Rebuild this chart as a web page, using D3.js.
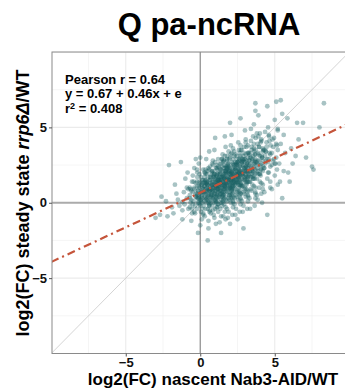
<!DOCTYPE html>
<html><head><meta charset="utf-8">
<script src="https://cdn.jsdelivr.net/npm/d3@7"></script>
<style>body{margin:0;background:#fff}svg{display:block}</style>
</head><body><svg id="c" width="345" height="388"></svg>
<script>
const title = "Q pa-ncRNA";
const xLabel = "log2(FC) nascent Nab3-AID/WT";
const yLabelParts = [["log2(FC) steady state ", false], ["rrp6Δ", true], ["/WT", false]];
const statLines = ["Pearson r = 0.64", "y = 0.67 + 0.46x + e"];
const r2Value = "0.408";
const fitIntercept = 0.67;
const fitSlope = 0.46;
const xTicks = [-5, 0, 5];
const yTicks = [-5, 0, 5];
const majorGrid = [-10, -5, 0, 5, 10];
const minorGrid = [-7.5, -2.5, 2.5, 7.5];
// [nascent log2FC, steady-state log2FC] (spread of the cloud)
const points = [
[-3.0,-1.0],[-2.7,-0.8],[-2.6,0.4],
[-2.1,2.5],[-2.3,0.1],[-1.9,-0.3],[-2.2,-0.9],
[-1.3,2.7],[-1.8,-0.7],[-1.6,0.6],[-1.4,-0.2],[-1.7,1.2],[-1.5,0.2],
[-1.2,-0.5],[-1.2,0.05],[-0.9,1.0],[-1.1,0.7],[-0.8,-0.4],[-1.0,1.6],[-0.9,0.3],[-1.2,-1.1],[-0.8,0.9],[-1.05,-0.1],[-0.85,2.0],
[-0.7,1.0],[-0.5,1.8],[-0.6,0.2],[-0.4,-0.6],[-0.3,1.3],[-0.7,-0.3],[-0.5,0.7],[-0.4,2.3],[-0.6,-1.2],[-0.3,0.4],[-0.55,1.4],[-0.35,-0.2],[-0.65,0.9],[-0.45,0.1],[-0.3,2.9],[-0.7,0.5],[-0.4,1.0],[-0.55,-0.7],
[0.0,3.0],[-0.15,-2.0],[-0.2,0.5],[0.1,1.2],[-0.1,0.0],[0.2,0.9],[-0.2,1.7],[0.05,-0.6],[0.15,0.3],[-0.05,1.4],[0.2,2.2],[-0.15,0.8],[0.1,-1.1],[0.0,0.6],[0.2,1.5],[-0.2,-0.4],[0.05,0.2],[-0.1,2.6],[0.15,1.0],[0.0,-0.2],[-0.2,1.1],[0.1,0.4],[0.2,-0.8],[-0.05,1.9],[0.1,0.7],[-0.1,0.3],[0.2,1.3],[0.0,-1.5],[-0.15,0.0],
[0.5,-2.5],[0.3,0.6],[0.4,1.3],[0.6,0.1],[0.7,1.8],[0.35,-0.4],[0.55,0.9],[0.65,2.4],[0.45,0.3],[0.3,1.1],[0.7,-0.7],[0.5,1.6],[0.4,0.0],[0.6,0.8],[0.35,2.0],[0.7,0.4],[0.55,-1.2],[0.45,1.4],[0.3,0.7],[0.65,1.0],[0.5,0.2],[0.4,2.9],[0.6,-0.2],[0.7,1.3],[0.35,0.9],[0.55,0.5],[0.45,1.9],[0.65,-0.5],[0.3,0.1],[0.5,1.2],[0.6,3.4],[0.4,0.6],[0.7,0.0],[0.35,1.5],[0.55,-1.7],[0.45,0.8],[0.65,1.7],[0.3,-0.9],[0.5,0.4],[0.6,2.2],
[1.4,-2.0],[0.8,0.7],[0.9,1.5],[1.0,0.2],[1.1,2.3],[1.2,0.9],[0.85,-0.5],[0.95,1.2],[1.05,0.4],[1.15,1.9],[1.2,-0.1],[0.8,1.4],[0.9,0.0],[1.0,2.7],[1.1,0.8],[1.2,1.6],[0.85,0.3],[0.95,-1.0],[1.05,1.1],[1.15,0.5],[1.2,2.0],[0.8,-0.2],[0.9,1.8],[1.0,0.6],[1.1,1.3],[1.2,-0.6],[0.85,1.0],[0.95,3.5],[1.05,0.1],[1.15,1.5],[1.2,0.7],[0.8,2.1],[0.9,0.4],[1.0,-0.4],[1.1,1.7],[1.2,1.1],[0.85,2.5],[0.95,0.6],[1.05,-1.4],[1.15,0.9],[0.8,1.2],[0.9,-0.8],[1.0,1.4],[1.1,0.3],[1.2,2.9],[0.85,0.8],[0.95,1.9],[1.05,0.0],[1.15,1.2],[1.0,4.3],[1.1,-0.3],
[1.3,1.0],[1.4,2.2],[1.5,0.4],[1.6,1.6],[1.7,-0.3],[1.35,1.3],[1.45,0.7],[1.55,2.8],[1.65,1.1],[1.7,0.2],[1.3,1.9],[1.4,-0.9],[1.5,1.4],[1.6,0.6],[1.7,2.4],[1.35,0.0],[1.45,1.7],[1.55,0.9],[1.65,-0.6],[1.7,1.5],[1.3,0.5],[1.4,1.2],[1.5,3.2],[1.6,0.3],[1.7,1.0],[1.35,2.0],[1.45,-0.2],[1.55,1.3],[1.65,2.1],[1.7,0.7],[1.3,-1.3],[1.4,0.8],[1.5,1.8],[1.6,1.2],[1.7,3.7],[1.35,0.6],[1.45,1.0],[1.55,-0.9],[1.65,1.6],[1.7,0.4],[1.3,2.6],[1.4,1.5],[1.5,0.1],[1.6,2.3],[1.7,1.3],[1.35,-0.4],[1.45,2.9],[1.55,0.5],[1.65,0.9],[1.7,-1.1],[1.3,1.4],[1.4,0.2],[1.5,2.1],[1.6,-0.1],[1.7,1.9],[1.35,1.1],[1.45,0.4],[1.55,1.7],[1.65,4.4],
[1.8,1.2],[1.9,2.4],[2.0,0.6],[2.1,1.8],[2.2,0.0],[1.85,1.5],[1.95,2.9],[2.05,0.9],[2.15,2.1],[2.2,1.3],[1.8,-0.4],[1.9,1.7],[2.0,1.0],[2.1,3.3],[2.2,0.4],[1.85,2.0],[1.95,0.2],[2.05,1.4],[2.15,-0.8],[2.2,2.6],[1.8,0.8],[1.9,1.1],[2.0,2.3],[2.1,0.5],[2.2,1.6],[1.85,-1.0],[1.95,1.3],[2.05,3.8],[2.15,1.0],[2.2,0.1],[1.8,2.2],[1.9,0.3],[2.0,1.5],[2.1,2.0],[2.2,-0.3],[1.85,0.7],[1.95,1.9],[2.05,0.0],[2.15,1.6],[2.2,2.9],[1.8,1.6],[1.9,-0.6],[2.0,1.2],[2.1,0.8],[2.2,1.9],[1.85,2.5],[1.95,0.5],[2.05,1.7],[2.15,0.3],[2.2,1.1],[1.8,0.1],[1.9,2.0],[2.0,-1.4],[2.1,1.3],[2.2,3.6],[1.85,1.0],[1.95,1.6],[2.05,2.4],[2.15,0.6],[2.0,5.3],[2.1,4.5],[1.9,0.9],
[2.3,1.4],[2.4,2.6],[2.5,0.8],[2.6,2.0],[2.7,0.3],[2.35,1.7],[2.45,3.1],[2.55,1.2],[2.65,2.4],[2.7,1.5],[2.3,-0.1],[2.4,1.9],[2.5,1.3],[2.6,3.5],[2.7,0.6],[2.35,2.2],[2.45,0.4],[2.55,1.6],[2.65,-0.6],[2.7,2.8],[2.3,1.0],[2.4,1.3],[2.5,2.5],[2.6,0.7],[2.7,1.8],[2.35,-0.8],[2.45,1.5],[2.55,4.0],[2.65,1.2],[2.7,0.2],[2.3,2.4],[2.4,0.5],[2.5,1.7],[2.6,2.2],[2.7,-0.1],[2.35,0.9],[2.45,2.1],[2.55,0.2],[2.65,1.8],[2.7,3.1],[2.3,1.8],[2.4,-0.4],[2.5,1.4],[2.6,1.0],[2.7,2.1],[2.35,2.7],[2.45,0.7],[2.55,1.9],[2.65,0.5],[2.7,1.3],[2.3,0.3],[2.4,2.2],[2.5,-1.1],[2.6,1.5],[2.7,3.8],[2.35,1.2],[2.45,1.8],[2.55,2.6],[2.7,5.6],
[2.9,-1.7],[2.8,1.6],[2.9,2.8],[3.0,1.0],[3.1,2.3],[3.2,0.5],[2.85,1.9],[2.95,3.3],[3.05,1.4],[3.15,2.6],[3.2,1.7],[2.8,0.1],[2.9,2.1],[3.0,1.5],[3.1,3.7],[3.2,0.8],[2.85,2.4],[2.95,0.6],[3.05,1.8],[3.15,-0.4],[3.2,3.0],[2.8,1.2],[2.9,1.5],[3.0,2.7],[3.1,0.9],[3.2,2.0],[2.85,-0.6],[2.95,1.7],[3.05,4.2],[3.15,1.4],[3.2,0.4],[2.8,2.6],[2.9,0.7],[3.0,1.9],[3.1,2.4],[3.2,0.1],[2.85,1.1],[2.95,2.3],[3.05,0.4],[3.15,2.0],[3.2,3.3],[2.8,2.0],[2.9,-0.2],[3.0,1.6],[3.1,1.2],[3.2,2.3],[2.85,2.9],[2.95,0.9],[3.05,2.1],[3.15,0.7],[3.0,4.8],
[3.3,1.8],[3.4,3.0],[3.5,1.2],[3.6,2.4],[3.7,0.7],[3.35,2.1],[3.45,3.5],[3.55,1.6],[3.65,2.8],[3.7,1.9],[3.3,0.3],[3.4,2.3],[3.5,1.7],[3.6,3.9],[3.7,1.0],[3.35,2.6],[3.45,0.8],[3.55,2.0],[3.65,-0.2],[3.7,3.2],[3.3,1.4],[3.4,1.7],[3.5,2.9],[3.6,1.1],[3.7,2.2],[3.35,-0.4],[3.45,1.9],[3.55,4.4],[3.65,1.6],[3.7,0.6],[3.3,2.8],[3.4,0.9],[3.5,2.1],[3.6,2.6],[3.7,0.3],[3.7,6.6],[3.7,6.1],[3.9,5.8],[3.4,4.9],[3.6,5.2],
[3.8,2.0],[3.9,3.2],[4.0,1.4],[4.1,2.6],[4.2,0.9],[3.85,2.3],[3.95,3.7],[4.05,1.8],[4.15,3.0],[4.2,2.1],[3.8,0.5],[3.9,2.5],[4.0,1.9],[4.1,4.1],[4.2,1.2],[3.85,2.8],[3.95,1.0],[4.05,2.2],[4.15,0.0],[4.2,3.4],[3.8,1.6],[3.9,1.9],[4.0,3.1],[4.1,1.3],[4.2,2.4],[3.85,0.2],[4.0,4.6],[4.1,0.6],[3.9,4.4],
[4.3,2.3],[4.4,3.4],[4.5,1.6],[4.6,2.9],[4.7,1.0],[4.35,2.6],[4.45,4.0],[4.55,2.0],[4.65,3.3],[4.7,2.4],[4.3,0.7],[4.4,2.8],[4.5,-0.8],[4.6,4.5],[4.5,6.4],[4.7,1.4],[4.35,3.1],[4.55,5.0],
[4.8,2.5],[4.9,3.7],[5.0,1.8],[5.1,3.0],[5.2,1.2],[4.85,2.8],[4.95,4.3],[5.0,5.5],[5.1,6.7],[5.15,2.2],[5.2,3.5],[4.8,0.9],[5.0,2.6],[5.2,4.8],
[5.4,6.8],[5.5,5.9],[5.5,0.3],[5.3,2.6],[5.4,3.9],[5.6,2.1],[5.7,3.3],[5.6,4.5],[5.35,1.4],
[5.9,2.0],[6.0,1.4],[6.2,2.6],[6.1,3.6],[5.85,5.6],
[6.5,5.3],[6.4,3.1],[6.6,4.2],
[6.9,5.3],[7.1,3.0],
[7.5,2.4],[7.6,2.2],[8.0,5.0],[8.3,6.6]
];
// [nascent log2FC, steady-state log2FC] read from the dense core of the cloud
const densePoints = [
[-0.7,0.3],[-0.4,0.9],[-0.55,-0.4],[-0.3,0.6],[-0.65,0.0],[-0.45,1.4],[-0.35,-0.7],[-0.6,0.8],[-0.5,-0.1],[-0.28,0.4],
[-0.2,0.6],[0.1,1.2],[-0.05,-0.1],[0.2,0.9],[-0.15,0.3],[0.05,1.7],[0.15,-0.4],[-0.1,1.1],[0.0,0.2],[0.22,0.7],[-0.22,1.4],[0.12,0.0],[-0.2,2.0],[0.1,0.5],[-0.05,1.0],[0.2,-0.7],[-0.15,0.8],[0.05,0.1],[0.15,1.5],[-0.1,0.4],[0.0,1.3],[0.22,-0.2],[-0.22,2.2],[0.12,0.7],[-0.2,0.3],
[0.3,1.4],[0.6,-0.2],[0.45,1.2],[0.7,0.9],[0.35,1.9],[0.55,0.0],[0.65,1.5],[0.4,0.7],[0.5,2.1],[0.72,0.5],[0.28,1.1],[0.62,-0.6],[0.3,1.7],[0.6,0.8],[0.45,1.3],[0.7,0.2],[0.35,2.2],[0.55,0.9],[0.65,1.5],[0.4,0.2],[0.5,1.2],[0.72,0.6],[0.28,2.0],[0.62,-0.1],[0.3,1.4],[0.6,0.5],[0.45,1.0],[0.7,1.7],[0.35,0.3],[0.55,2.3],[0.65,0.8],[0.4,1.3],[0.5,-0.4],[0.72,1.1],[0.28,0.4],
[0.8,2.1],[1.1,1.0],[0.95,1.9],[1.2,0.4],[0.85,2.8],[1.05,1.3],[1.15,0.9],[0.9,1.7],[1.0,0.1],[1.22,1.5],[0.78,1.2],[1.12,2.2],[0.8,0.3],[1.1,1.8],[0.95,1.0],[1.2,2.4],[0.85,0.8],[1.05,1.4],[1.15,-0.3],[0.9,2.0],[1.0,1.1],[1.22,1.6],[0.78,0.5],[1.12,2.5],[0.8,1.2],[1.1,1.8],[0.95,0.5],[1.2,1.5],[0.85,0.9],[1.05,2.3],[1.15,0.2],[0.9,1.7],[1.0,0.8],[1.22,1.3],[0.78,2.0],[1.12,0.6],[0.8,2.6],[1.1,1.1],[0.95,1.6],[1.2,-0.1],
[1.3,1.7],[1.6,1.0],[1.45,2.4],[1.7,1.3],[1.35,2.2],[1.55,0.7],[1.65,3.1],[1.4,1.6],[1.5,1.2],[1.72,2.0],[1.28,0.4],[1.62,1.8],[1.3,1.5],[1.6,2.5],[1.45,0.6],[1.7,2.1],[1.35,1.3],[1.55,2.7],[1.65,1.1],[1.4,1.7],[1.5,0.0],[1.72,2.3],[1.28,1.4],[1.62,1.9],[1.3,0.8],[1.6,2.8],[1.45,1.5],[1.7,2.1],[1.35,0.8],[1.55,1.8],[1.65,1.2],[1.4,2.6],[1.5,0.5],[1.72,2.0],[1.28,1.1],[1.62,1.6],[1.3,2.3],[1.6,0.9],[1.45,2.9],[1.7,1.4],[1.35,1.9],[1.55,0.2],
[1.8,3.1],[2.1,1.1],[1.95,2.2],[2.2,1.7],[1.85,2.6],[2.05,0.3],[2.15,2.0],[1.9,1.4],[2.0,3.0],[2.22,1.6],[1.78,2.4],[2.12,0.9],[1.8,2.8],[2.1,1.8],[1.95,2.1],[2.2,0.7],[1.85,2.3],[2.05,1.5],[2.15,1.9],[1.9,3.4],[2.0,1.0],[2.22,2.5],[1.78,1.6],[2.12,2.7],[1.8,1.3],[2.1,2.0],[1.95,0.5],[2.2,2.2],[1.85,1.7],[2.05,3.2],[2.15,1.2],[1.9,2.6],[2.0,1.9],[2.22,1.4],[1.78,2.3],[2.12,0.8],[1.8,2.9],[2.1,1.5],[1.95,2.1],[2.2,1.1],
[2.3,1.3],[2.6,2.8],[2.45,1.9],[2.7,3.0],[2.35,1.6],[2.55,2.3],[2.65,0.8],[2.4,2.5],[2.5,2.0],[2.72,3.5],[2.28,1.5],[2.62,2.9],[2.3,2.2],[2.6,1.7],[2.45,2.6],[2.7,1.1],[2.35,3.2],[2.55,1.8],[2.65,2.4],[2.4,1.4],[2.5,2.7],[2.72,2.1],[2.28,3.4],[2.62,1.4],[2.3,2.5],[2.6,2.0],[2.45,2.9],[2.7,0.6],[2.35,2.3],[2.55,1.7],[2.65,3.3],[2.4,1.9],[2.5,2.7],[2.72,1.2],[2.28,3.1],[2.62,2.1],
[2.8,2.7],[3.1,1.3],[2.95,2.9],[3.2,2.1],[2.85,2.5],[3.05,4.0],[3.15,1.6],[2.9,3.1],[3.0,2.2],[3.22,3.3],[2.78,1.9],[3.12,2.6],[2.8,1.1],[3.1,2.8],[2.95,2.3],[3.2,3.8],[2.85,1.8],[3.05,3.2],[3.15,2.5],[2.9,2.0],[3.0,2.9],[3.22,1.4],[2.78,3.5],[3.12,2.1],[2.8,2.7],[3.1,1.7],[2.95,3.7],[3.2,1.7],[2.85,2.8],[3.05,2.4],
[3.3,3.3],[3.6,1.8],[3.45,3.7],[3.7,2.7],[3.35,3.0],[3.55,1.6],[3.65,3.2],[3.4,2.4],[3.5,2.8],[3.72,4.3],[3.28,1.9],[3.62,3.4],[3.3,2.5],[3.6,3.6],[3.45,2.2],[3.7,2.9],[3.35,1.4],[3.55,3.1],[3.65,2.6],[3.4,4.1],[3.5,2.1],[3.72,3.5],[3.28,2.8],[3.62,2.3],[3.3,3.2],
[3.8,2.6],[4.1,4.2],[3.95,2.8],[4.2,3.6],[3.85,2.1],[4.05,4.0],[4.15,3.0],[3.9,3.3],[4.0,1.9],[4.22,3.5],[3.78,2.7],[4.12,3.1],[3.8,4.6],[4.1,2.2],[3.95,3.7],[4.2,2.8],[3.85,3.9],[4.05,2.5],
[4.3,3.5],[4.6,2.0],[4.45,3.7],[4.7,3.2],[4.35,4.7],[4.55,2.7],[4.65,4.1],[4.4,3.4],[4.5,2.9],[4.72,3.8],[4.28,2.3],[4.62,4.4],
[4.8,3.3],[5.1,3.9],[4.95,2.9],[5.2,4.9],[4.85,4.2],[5.05,2.6],[5.15,3.8]
];
const allPoints = points.concat(densePoints);

const svg = d3.select("#c");
const x = d3.scaleLinear().domain([-9.95, 10.05]).range([52, 350]);
const y = d3.scaleLinear().domain([-10, 10]).range([353.5, 52]);
const [yTop, yBot] = [52, 353.5];

svg.append("defs").append("clipPath").attr("id", "pc")
  .append("rect").attr("x", 52).attr("y", yTop).attr("width", 300).attr("height", yBot - yTop);

const panel = svg.append("g").attr("clip-path", "url(#pc)");
panel.selectAll(".mx").data(minorGrid).join("line")
  .attr("x1", d => x(d)).attr("x2", d => x(d)).attr("y1", yTop).attr("y2", yBot)
  .attr("stroke", "#f0f0f0").attr("stroke-width", 0.7);
panel.selectAll(".my").data(minorGrid).join("line")
  .attr("y1", d => y(d)).attr("y2", d => y(d)).attr("x1", 52).attr("x2", 352)
  .attr("stroke", "#f0f0f0").attr("stroke-width", 0.7);
panel.selectAll(".gx").data(majorGrid).join("line")
  .attr("x1", d => x(d)).attr("x2", d => x(d)).attr("y1", yTop).attr("y2", yBot)
  .attr("stroke", "#ebebeb").attr("stroke-width", 1.1);
panel.selectAll(".gy").data(majorGrid).join("line")
  .attr("y1", d => y(d)).attr("y2", d => y(d)).attr("x1", 52).attr("x2", 352)
  .attr("stroke", "#ebebeb").attr("stroke-width", 1.1);
panel.append("line")
  .attr("x1", x(-11)).attr("y1", y(-11)).attr("x2", x(11)).attr("y2", y(11))
  .attr("stroke", "#c9c9c9").attr("stroke-width", 0.8);
panel.append("line").attr("x1", 52).attr("x2", 352).attr("y1", y(0)).attr("y2", y(0))
  .attr("stroke", "#ababab").attr("stroke-width", 1.8);
panel.append("line").attr("x1", x(0)).attr("x2", x(0)).attr("y1", yTop).attr("y2", yBot)
  .attr("stroke", "#8f8f8f").attr("stroke-width", 1.2);
panel.append("g").selectAll("circle").data(allPoints).join("circle")
  .attr("cx", d => x(d[0])).attr("cy", d => y(d[1])).attr("r", 2.4)
  .attr("fill", "#1a6064").attr("fill-opacity", 0.38);
panel.append("line")
  .attr("x1", x(-10)).attr("y1", y(fitIntercept + fitSlope * -10))
  .attr("x2", x(10.5)).attr("y2", y(fitIntercept + fitSlope * 10.5))
  .attr("stroke", "#c5553b").attr("stroke-width", 2.2)
  .attr("stroke-dasharray", "8,4,2,4");
svg.append("rect").attr("x", 52).attr("y", yTop).attr("width", 300).attr("height", yBot - yTop)
  .attr("fill", "none").attr("stroke", "#8a8a8a").attr("stroke-width", 1);

const font = "'Liberation Sans', Arial, Helvetica, sans-serif";
const fmt = d => d < 0 ? "\u2212" + Math.abs(d) : String(d);
const xa = svg.append("g").attr("transform", `translate(0,${yBot})`)
  .call(d3.axisBottom(x).tickValues(xTicks).tickFormat(fmt).tickSize(3).tickPadding(1));
const ya = svg.append("g").attr("transform", `translate(52,0)`)
  .call(d3.axisLeft(y).tickValues(yTicks).tickFormat(fmt).tickSize(3).tickPadding(2));
[xa, ya].forEach(a => {
  a.select(".domain").remove();
  a.selectAll(".tick line").attr("stroke", "#555");
  a.selectAll(".tick text").attr("fill", "#111").style("font-family", font)
    .style("font-size", "13px").style("font-weight", "bold");
});

svg.append("text").attr("x", 209).attr("y", 35).attr("text-anchor", "middle")
  .style("font-family", font).style("font-size", "31px").style("font-weight", "bold")
  .text(title);
svg.append("text").attr("x", 213).attr("y", 385).attr("text-anchor", "middle")
  .style("font-family", font).style("font-size", "17px").style("font-weight", "bold")
  .text(xLabel);
const yl = svg.append("text").attr("transform", "translate(29,203) rotate(-90)")
  .attr("text-anchor", "middle")
  .style("font-family", font).style("font-size", "18px").style("font-weight", "bold");
yLabelParts.forEach(([t, it]) => yl.append("tspan").style("font-style", it ? "italic" : "normal").text(t));

const ann = svg.append("g").style("font-family", font).style("font-size", "13px").style("font-weight", "bold");
statLines.forEach((t, i) => ann.append("text").attr("x", 65).attr("y", 83.5 + i * 14.5).text(t));
const r2 = ann.append("text").attr("x", 65).attr("y", 113);
r2.append("tspan").text("r");
r2.append("tspan").attr("dy", -4.5).style("font-size", "9px").text("2");
r2.append("tspan").attr("dy", 4.5).text(" = " + r2Value);
</script></body></html>
